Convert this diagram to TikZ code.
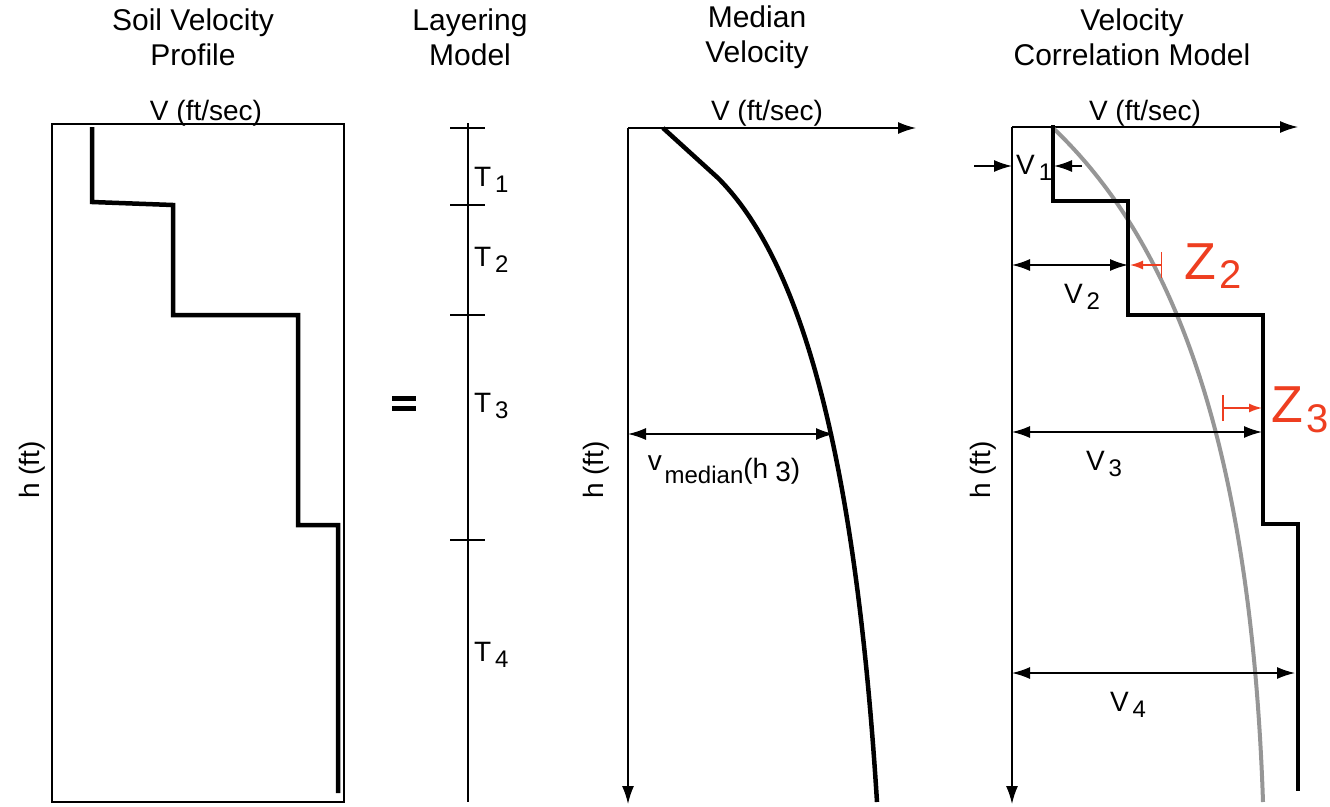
\documentclass[tikz,border=0pt]{standalone}
\usepackage{fontspec}
\setmainfont{Liberation Sans}
\usetikzlibrary{arrows.meta}
\newcommand{\lowr}[1]{\hspace{0.14em}\raisebox{-0.4ex}{\fontsize{24}{26}\selectfont #1}}
\newcommand{\lowz}[1]{\hspace{0.06em}\raisebox{-0.35ex}{\fontsize{40}{42}\selectfont #1}}
\definecolor{zred}{RGB}{238,62,32}
\definecolor{curvegray}{RGB}{150,150,150}
\begin{document}
\begin{tikzpicture}[x=1pt,y=-1pt,
  title/.style={align=center,font=\fontsize{30}{35}\selectfont},
  lbl/.style={font=\fontsize{28}{30}\selectfont,inner sep=0pt},
  zlbl/.style={font=\fontsize{52}{54}\selectfont,text=zred,inner sep=0pt},
  thin/.style={line width=1.5pt},
  thick/.style={line width=4.5pt},
  bigtip/.style={-{Latex[length=18pt,width=12pt]}},
  dbltip/.style={{Latex[length=18pt,width=12pt]}-{Latex[length=18pt,width=12pt]}},
  redtip/.style={{Bar[width=26pt]}-{Latex[length=13pt,width=9pt]}, zred, line width=1.5pt}]
\path[use as bounding box] (0,0) rectangle (1330,806);

% ---------- titles ----------
\node[title] (t1) at (193,37) {Soil Velocity\\Profile};
\node[title] (t2) at (470,37) {Layering\\Model};
\node[title] (t3) at (757,37) {Median\\Velocity};
\node[title] (t4) at (1132,37) {Velocity\\Correlation Model};

% ---------- panel 1 ----------
\draw[thin] (52,124) rectangle (344,802);
\node[lbl] (v1lab) at (206,113) {V (ft/sec)};
\node[lbl,rotate=90] (h1lab) at (32,470) {h (ft)};
\draw[thick,line join=miter] (92,127) -- (92,202) -- (173,205) -- (173,315) -- (298,315) -- (298,525) -- (338,525) -- (338,793);

% ---------- equals sign ----------
\fill (392,396) rectangle (416,401);
\fill (392,406) rectangle (416,411);

% ---------- panel 2 ----------
\coordinate (lt) at (468,123);
\coordinate (lb) at (468,802);
\draw[thin] (lt) -- (lb);
\foreach \yy in {128,205,315,540}{\draw[thin] (450,\yy) -- (485,\yy);}
\node[lbl,anchor=west] (T1) at (474,180) {T\lowr{1}};
\node[lbl,anchor=west] (T2) at (474,260) {T\lowr{2}};
\node[lbl,anchor=west] (T3) at (474,406) {T\lowr{3}};
\node[lbl,anchor=west] (T4) at (474,655) {T\lowr{4}};

% ---------- panel 3 ----------
\coordinate (o3) at (628,128);
\coordinate (x3) at (916,128);
\coordinate (y3) at (628,804);
\draw[thin,bigtip] (o3) -- (x3);
\draw[thin,bigtip] (o3) -- (y3);
\node[lbl] (v3lab) at (767,113) {V (ft/sec)};
\node[lbl,rotate=90] (h3lab) at (596,470) {h (ft)};
\draw[thick] (663,128) -- (718,178) .. controls (800,260) and (855,450) .. (877,802);
\coordinate (m3a) at (628,434);
\coordinate (m3b) at (834,434);
\draw[thin,dbltip] (m3a) -- (m3b);
\node[lbl] (vmed) at (724,470) {\raisebox{0.5ex}{v}\hspace{0.1em}\raisebox{-0.35ex}{\fontsize{24}{26}\selectfont median}(h\hspace{0.25em}\raisebox{-0.2ex}{3})};

% ---------- panel 4 ----------
\coordinate (o4) at (1012,127);
\coordinate (x4) at (1298,127);
\coordinate (y4) at (1012,804);
\draw[thin,bigtip] (o4) -- (x4);
\draw[thin,bigtip] (o4) -- (y4);
\node[lbl] (v4lab) at (1145,113) {V (ft/sec)};
\node[lbl,rotate=90] (h4lab) at (983,470) {h (ft)};
\draw[curvegray,line width=4pt] (1052,127) .. controls (1163,232) and (1250,420) .. (1263,802);
\draw[thick,line join=miter] (1053,125) -- (1053,201) -- (1128,201) -- (1128,315) -- (1263,315) -- (1263,524) -- (1298,524) -- (1298,791);

% V1
\coordinate (v1s) at (974,166);
\coordinate (v1e) at (1012,166);
\coordinate (v1s2) at (1082,166);
\coordinate (v1e2) at (1054,166);
\draw[thin,bigtip] (v1s) -- (v1e);
\draw[thin,bigtip] (v1s2) -- (v1e2);
\node[lbl,anchor=west] (V1) at (1016,168) {V\lowr{1}};
% V2
\coordinate (v2a) at (1012,265);
\coordinate (v2b) at (1128,265);
\draw[thin,dbltip] (v2a) -- (v2b);
\node[lbl] (V2) at (1082,297) {V\lowr{2}};
% Z2
\coordinate (z2a) at (1162,265);
\coordinate (z2b) at (1130,265);
\draw[redtip] (z2a) -- (z2b);
\node[zlbl,anchor=west] (Z2) at (1184,266) {Z\lowz{2}};
% V3
\coordinate (v3a) at (1012,432);
\coordinate (v3b) at (1262,432);
\draw[thin,dbltip] (v3a) -- (v3b);
\node[lbl] (V3) at (1104,464) {V\lowr{3}};
% Z3
\coordinate (z3a) at (1222,408);
\coordinate (z3b) at (1262,408);
\draw[redtip] (z3a) -- (z3b);
\node[zlbl,anchor=west] (Z3) at (1271,410) {Z\lowz{3}};
% V4
\coordinate (v4a) at (1012,673);
\coordinate (v4b) at (1295,673);
\draw[thin,dbltip] (v4a) -- (v4b);
\node[lbl] (V4) at (1128,705) {V\lowr{4}};
\end{tikzpicture}
\end{document}
